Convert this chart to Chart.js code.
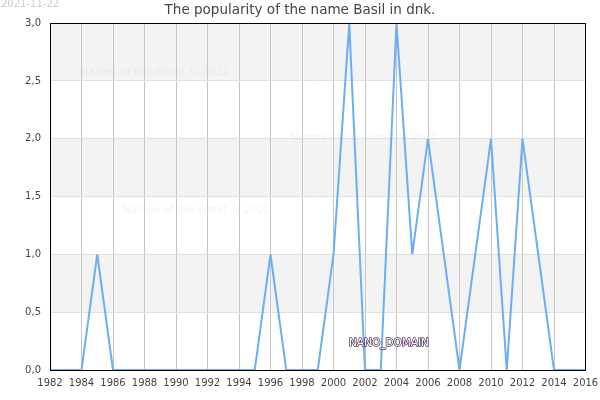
<!DOCTYPE html>
<html>
<head>
<meta charset="utf-8">
<script src="https://cdn.jsdelivr.net/npm/chart.js@4"></script>
<style>
  html, body { margin: 0; padding: 0; background: #fff; }
  canvas { display: block; }
</style>
</head>
<body>
<canvas id="chart" width="600" height="400"></canvas>
<script>
const years = [1982, 1983, 1984, 1985, 1986, 1987, 1988, 1989, 1990, 1991, 1992, 1993, 1994, 1995, 1996, 1997, 1998,
  1999, 2000, 2001, 2002, 2003, 2004, 2005, 2006, 2007, 2008, 2009, 2010, 2011, 2012, 2013, 2014, 2015, 2016];
const popularity = [0, 0, 0, 1, 0, 0, 0, 0, 0, 0, 0, 0, 0, 0, 1, 0, 0,
  0, 1, 3, 0, 0, 3, 1, 2, 1, 0, 1, 2, 0, 2, 1, 0, 0, 0];
const bands = [[2.5, 3], [1.5, 2], [0.5, 1]];
const titleText = 'The popularity of the name Basil in dnk.';
const dateText = '2021-11-22';
const watermarkText = 'Names of the World © 2021';
const nanoText = 'NANO_DOMAIN';

// grey stripes behind the grid, from the y scale
const stripes = {
  id: 'stripes',
  beforeDraw(chart) {
    const { ctx, chartArea, scales } = chart;
    ctx.save();
    ctx.fillStyle = '#f3f3f3';
    bands.forEach(b => {
      const top = scales.y.getPixelForValue(b[1]);
      const bottom = scales.y.getPixelForValue(b[0]);
      ctx.fillRect(chartArea.left, top, chartArea.right - chartArea.left, bottom - top);
    });
    ctx.restore();
  }
};

const overlayText = {
  id: 'overlayText',
  beforeDatasetsDraw(chart) {
    const ctx = chart.ctx;
    ctx.save();
    ctx.font = '10.5px "DejaVu Sans"';
    ctx.fillStyle = 'rgba(190, 190, 245, 0.2)';
    ctx.fillText(watermarkText, 81, 75);
    ctx.fillText(watermarkText, 290, 140);
    ctx.fillText(watermarkText, 123, 213);
    ctx.restore();
  },
  afterDatasetsDraw(chart) {
    const { ctx, chartArea } = chart;
    ctx.save();
    // closes the box, the axes only draw left and bottom
    const left = Math.floor(chartArea.left) + 0.5;
    const top = Math.floor(chartArea.top) + 0.5;
    const right = Math.floor(chartArea.right) + 0.5;
    const bottom = Math.floor(chartArea.bottom) + 0.5;
    ctx.strokeStyle = '#000000';
    ctx.lineWidth = 1;
    ctx.strokeRect(left, top, right - left, bottom - top);

    ctx.textBaseline = 'alphabetic';
    ctx.textAlign = 'left';
    ctx.font = '10px "DejaVu Sans"';
    ctx.fillStyle = '#cccccc';
    ctx.fillText(dateText, 1, 7);

    ctx.font = '10.5px "DejaVu Sans"';
    ctx.lineWidth = 1.5;
    ctx.lineJoin = 'round';
    ctx.strokeStyle = '#5a3560';
    ctx.strokeText(nanoText, 349, 346);
    ctx.fillStyle = '#ffffff';
    ctx.fillText(nanoText, 349, 346);
    ctx.restore();
  }
};

new Chart(document.getElementById('chart'), {
  type: 'line',
  data: {
    labels: years,
    datasets: [{
      data: years.map((y, i) => ({ x: y, y: popularity[i] })),
      borderColor: '#6aaef5',
      borderWidth: 2,
      borderJoinStyle: 'bevel',
      pointRadius: 0,
      tension: 0,
      clip: 0
    }]
  },
  options: {
    responsive: false,
    animation: false,
    plugins: {
      legend: { display: false },
      tooltip: { enabled: false },
      title: {
        display: true,
        text: titleText,
        color: '#444444',
        font: { family: '"DejaVu Sans"', size: 13.5, weight: 'normal' },
        padding: { top: 2, bottom: 5 }
      }
    },
    scales: {
      x: {
        type: 'linear',
        min: 1982,
        max: 2016,
        afterFit(axis) {
          axis.height = 30;
          axis.paddingRight = 14.5;
        },
        ticks: {
          stepSize: 2,
          maxRotation: 0,
          autoSkip: false,
          padding: 7,
          color: '#444444',
          font: { family: '"DejaVu Sans"', size: 10 },
          callback: v => String(v)
        },
        grid: { color: '#c6c6c6', lineWidth: 1, drawTicks: false },
        border: { color: '#000000', width: 1 }
      },
      y: {
        min: 0,
        max: 3,
        afterFit(axis) { axis.width = 50; },
        ticks: {
          stepSize: 0.5,
          padding: 9,
          color: '#444444',
          font: { family: '"DejaVu Sans"', size: 10 },
          callback: v => v.toFixed(1).replace('.', ',')
        },
        grid: { color: '#e0e0e0', lineWidth: 1, drawTicks: false },
        border: { color: '#000000', width: 1 }
      }
    }
  },
  plugins: [stripes, overlayText]
});
</script>
</body>
</html>
